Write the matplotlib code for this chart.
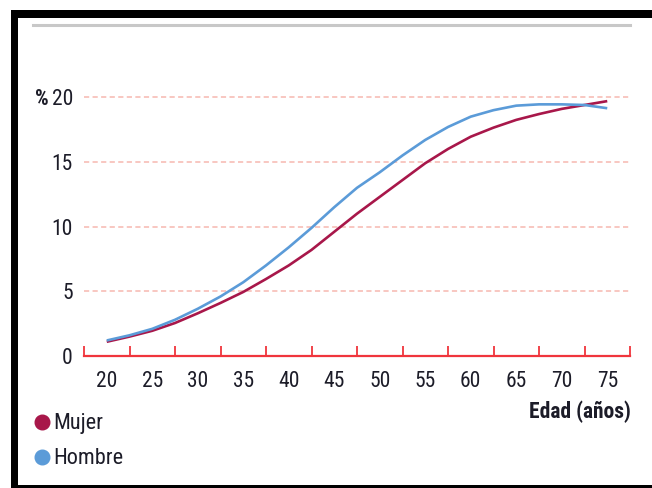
import matplotlib
matplotlib.use('Agg')
import matplotlib.pyplot as plt
from matplotlib import font_manager
from matplotlib.patches import Rectangle
from matplotlib.lines import Line2D

# ages read every 2.5 years off the reference
edad = [20, 22.5, 25, 27.5, 30, 32.5, 35, 37.5, 40, 42.5, 45, 47.5, 50,
        52.5, 55, 57.5, 60, 62.5, 65, 67.5, 70, 72.5, 75]
mujer = [1.1, 1.5, 1.95, 2.55, 3.3, 4.1, 4.95, 5.95, 7.0, 8.2, 9.6, 11.0, 12.3,
         13.6, 14.9, 16.0, 16.95, 17.65, 18.25, 18.7, 19.1, 19.4, 19.7]
hombre = [1.2, 1.6, 2.1, 2.8, 3.65, 4.6, 5.7, 7.0, 8.4, 9.9, 11.5, 13.0, 14.2,
          15.5, 16.7, 17.7, 18.5, 19.0, 19.35, 19.45, 19.45, 19.4, 19.15]
xticks = [20, 25, 30, 35, 40, 45, 50, 55, 60, 65, 70, 75]
yticks = [0, 5, 10, 15, 20]
ylabels = ['0', '5', '10', '15', '20']
series = ['Mujer', 'Hombre']

c_mujer = '#a8174a'
c_hombre = '#5b9bd8'
c_axis = '#f0353c'
c_grid = '#f7b8b0'
c_text = '#1c1c28'

names = set(f.name for f in font_manager.fontManager.ttflist)
cond = [n for n in ['Liberation Sans Narrow', 'DejaVu Sans Condensed', 'Roboto Condensed',
                    'Open Sans Condensed'] if n in names]
fam = cond + ['DejaVu Sans']

W, H = 652, 488
fig = plt.figure(figsize=(W / 100, H / 100), dpi=100)

def fx(px):
    return px / W

def fy(py):
    return 1 - py / H

# frame pieces
fig.add_artist(Rectangle((fx(11), fy(18)), fx(641), 8 / H, color='black', lw=0))
fig.add_artist(Rectangle((fx(11), 0), 7 / W, fy(10), color='black', lw=0))
fig.add_artist(Rectangle((fx(11), 0), fx(641), 3 / H, color='black', lw=0))
fig.add_artist(Line2D([fx(33), fx(630)], [fy(24.5), fy(24.5)], color='#c8c8c8', lw=2.2))

ax = fig.add_axes([fx(84), fy(356), fx(630 - 84), (356 - 84.3) / H])
ax.set_xlim(17.5, 77.5)
ax.set_ylim(0, 21)

for yv in yticks[1:]:
    ax.axhline(yv, color=c_grid, lw=1.1, dashes=(3.4, 2.2), zorder=1)

ax.plot(edad, mujer, color=c_mujer, lw=1.9, zorder=3, solid_capstyle='butt')
ax.plot(edad, hombre, color=c_hombre, lw=1.9, zorder=3, solid_capstyle='butt')

for s in ['top', 'right', 'left']:
    ax.spines[s].set_visible(False)
ax.spines['bottom'].set_color(c_axis)
ax.spines['bottom'].set_linewidth(1.6)

fs = 15.5 if cond else 11.5
ax.set_xticks(xticks)
ax.set_xticklabels([str(v) for v in xticks], family=fam, fontsize=fs, color=c_text)
ax.set_xticks([v - 2.5 for v in xticks] + [77.5], minor=True)
ax.tick_params(axis='x', which='major', length=0, pad=11)
ax.tick_params(axis='x', which='minor', direction='in', length=7.5, width=1.3, color=c_axis)
ax.set_yticks(yticks)
ax.set_yticklabels(ylabels, family=fam, fontsize=fs, color=c_text)
ax.tick_params(axis='y', length=0, pad=8)

fig.text(fx(49), fy(99), '%', family=fam, fontsize=fs, fontweight='bold', color=c_text, va='center', ha='right')
fig.text(fx(631), fy(412), 'Edad (años)', family=fam, fontsize=fs, fontweight='bold', color=c_text, va='center', ha='right')

for i, (lab, col) in enumerate(zip(series, [c_mujer, c_hombre])):
    yc = 422 + i * 35
    fig.add_artist(Line2D([fx(42.3)], [fy(yc)], marker='o', markersize=10.5, color=col, lw=0))
    fig.text(fx(53), fy(yc + 2), lab, family=fam, fontsize=fs + 0.5, color=c_text, va='center', ha='left')

fig.savefig('out.png', dpi=100)
